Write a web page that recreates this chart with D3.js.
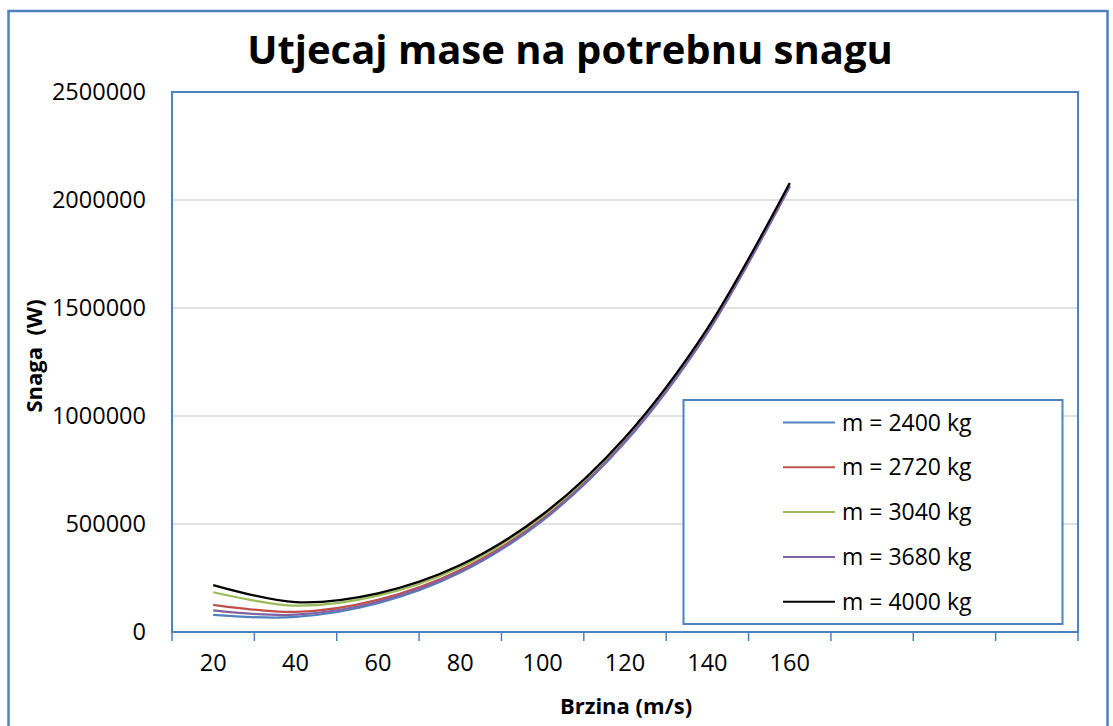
<!DOCTYPE html>
<html>
<head>
<meta charset="utf-8">
<script src="https://cdn.jsdelivr.net/npm/d3@7/dist/d3.min.js"></script>
<style>
  body { margin: 0; background: #fff; }
  text { font-family: "Open Sans", "Noto Sans", sans-serif; fill: #000; }
</style>
</head>
<body>
<div id="chart"></div>
<script>
// data
var speeds = ["20", "40", "60", "80", "100", "120", "140", "160"];
var slotCount = 11;   // category slots on the x axis (last three are empty)
var yTicks = [0, 500000, 1000000, 1500000, 2000000, 2500000];

var seriesNames = ["m = 2400 kg", "m = 2720 kg", "m = 3040 kg", "m = 3680 kg", "m = 4000 kg"];
var colors = ["#4F81BD", "#C0504D", "#9BBB59", "#8064A2", "#000000"];

var m2400 = [79000, 69600, 133000, 275000, 516000, 878000, 1385000, 2061000];
var m2720 = [126000, 93000, 149000, 287000, 525000, 886000, 1392000, 2067000];
var m3040 = [184000, 122000, 168000, 301000, 537000, 896000, 1400000, 2074000];
var m3680 = [100000, 80000, 140000, 280000, 520000, 882000, 1388000, 2064000];
var m4000 = [217000, 138000, 179000, 310000, 544000, 901000, 1405000, 2079000];

var seriesValues = [m2400, m2720, m3040, m3680, m4000];

var width = 1113, height = 726;
var plot = {left: 172, top: 92, right: 1078, bottom: 632};
var blue = "#4F81BD";

var svg = d3.select("#chart").append("svg")
    .attr("width", width)
    .attr("height", height);

// outer chart border
svg.append("rect")
    .attr("x", 8.5).attr("y", 11)
    .attr("width", 1099).attr("height", 740)
    .attr("fill", "none")
    .attr("stroke", blue)
    .attr("stroke-width", 2.5);

var x = d3.scaleBand()
    .domain(d3.range(slotCount))
    .range([plot.left, plot.right])
    .paddingInner(0).paddingOuter(0);

var y = d3.scaleLinear()
    .domain([0, 2500000])
    .range([plot.bottom, plot.top]);

// gridlines
svg.append("g").selectAll("line")
    .data(yTicks.filter(function(d){ return d > 0 && d < 2500000; }))
    .enter().append("line")
    .attr("x1", plot.left).attr("x2", plot.right)
    .attr("y1", function(d){ return y(d); })
    .attr("y2", function(d){ return y(d); })
    .attr("stroke", "#d9d9d9")
    .attr("stroke-width", 1.5);

// y axis labels
var yAxis = d3.axisLeft(y)
    .tickValues(yTicks)
    .tickSize(0)
    .tickPadding(26)
    .tickFormat(d3.format("d"));

var gy = svg.append("g")
    .attr("transform", "translate(" + plot.left + ",0)")
    .call(yAxis);
gy.select(".domain").remove();
gy.selectAll("text").attr("font-size", "23.5px").style("font-family", "'Open Sans', sans-serif");

// x axis labels
var xAxis = d3.axisBottom(x)
    .tickSize(0)
    .tickPadding(22)
    .tickFormat(function(i){ return speeds[i] || ""; });

var gx = svg.append("g")
    .attr("transform", "translate(0," + plot.bottom + ")")
    .call(xAxis);
gx.select(".domain").remove();
gx.selectAll("text").attr("font-size", "23.5px").style("font-family", "'Open Sans', sans-serif");

// x tick marks at slot boundaries
svg.append("g").selectAll("line")
    .data(d3.range(slotCount + 1))
    .enter().append("line")
    .attr("x1", function(i){ return i < slotCount ? x(i) : plot.right; })
    .attr("x2", function(i){ return i < slotCount ? x(i) : plot.right; })
    .attr("y1", plot.bottom)
    .attr("y2", plot.bottom + 9)
    .attr("stroke", blue)
    .attr("stroke-width", 1.5);

// plot area border
svg.append("rect")
    .attr("x", plot.left).attr("y", plot.top)
    .attr("width", plot.right - plot.left)
    .attr("height", plot.bottom - plot.top)
    .attr("fill", "none")
    .attr("stroke", blue)
    .attr("stroke-width", 2);

// curves
var line = d3.line()
    .x(function(d, i){ return x(i) + x.bandwidth() / 2; })
    .y(function(d){ return y(d); })
    .curve(d3.curveCatmullRom.alpha(0.5));

svg.append("g").selectAll("path")
    .data(seriesValues)
    .enter().append("path")
    .attr("d", line)
    .attr("fill", "none")
    .attr("stroke", function(d, i){ return colors[i]; })
    .attr("stroke-width", 2.25);

// title
svg.append("text")
    .attr("x", 570).attr("y", 64)
    .attr("text-anchor", "middle")
    .attr("font-size", "40px")
    .attr("font-weight", "bold")
    .text("Utjecaj mase na potrebnu snagu");

// axis titles
svg.append("text")
    .attr("x", 626).attr("y", 714)
    .attr("text-anchor", "middle")
    .attr("font-size", "22px")
    .attr("font-weight", "bold")
    .text("Brzina (m/s)");

svg.append("text")
    .attr("transform", "translate(42,356) rotate(-90)")
    .attr("text-anchor", "middle")
    .attr("font-size", "22px")
    .attr("font-weight", "bold")
    .style("white-space", "pre")
    .text("Snaga  (W)");

// legend
var legend = svg.append("g");
legend.append("rect")
    .attr("x", 683.5).attr("y", 400)
    .attr("width", 379).attr("height", 224)
    .attr("fill", "#fff")
    .attr("stroke", blue)
    .attr("stroke-width", 2);

var rows = legend.selectAll("g.row")
    .data(seriesNames)
    .enter().append("g")
    .attr("class", "row")
    .attr("transform", function(d, i){ return "translate(0," + (422.5 + i * 44.8) + ")"; });

rows.append("line")
    .attr("x1", 783).attr("x2", 835)
    .attr("y1", 0).attr("y2", 0)
    .attr("stroke", function(d, i){ return colors[i]; })
    .attr("stroke-width", 2);

rows.append("text")
    .attr("x", 842).attr("y", 0)
    .attr("dy", "0.35em")
    .attr("font-size", "23px")
    .text(function(d){ return d; });
</script>
</body>
</html>
